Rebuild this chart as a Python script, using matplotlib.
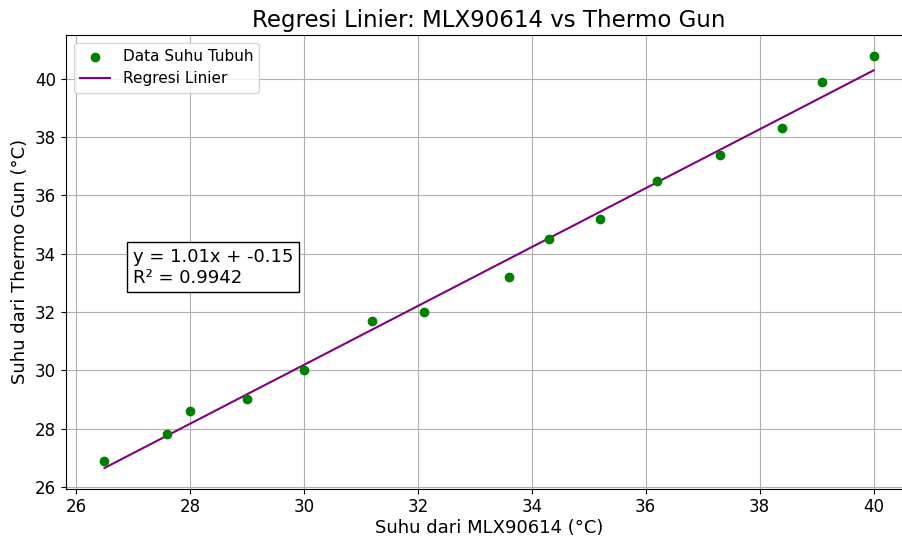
import numpy as np
import matplotlib.pyplot as plt

# Suhu pembacaan sensor vs thermo gun (°C)
suhu_mlx = [26.5, 27.6, 28.0, 29.0, 30.0, 31.2, 32.1, 33.6, 34.3, 35.2,
            36.2, 37.3, 38.4, 39.1, 40.0]
suhu_gun = [26.9, 27.8, 28.6, 29.0, 30.0, 31.7, 32.0, 33.2, 34.5, 35.2,
            36.5, 37.4, 38.3, 39.9, 40.8]

x = np.array(suhu_mlx)
y = np.array(suhu_gun)

slope, intercept = np.polyfit(x, y, 1)
y_fit = slope * x + intercept
r2 = 1 - np.sum((y - y_fit) ** 2) / np.sum((y - y.mean()) ** 2)

fig = plt.figure(figsize=(9.02, 5.39), dpi=100)
# the original screenshot is cut off on the right, so the axes run past the edge
ax = fig.add_axes([0.0732, 0.0935, 0.938, 0.8415])

ax.scatter(x, y, color="green", label="Data Suhu Tubuh", zorder=3)
ax.plot(x, y_fit, color="purple", label="Regresi Linier")

ax.text(27, 33, f"y = {slope:.2f}x + {intercept:.2f}\nR² = {r2:.4f}",
        fontsize=13, bbox=dict(facecolor="white", edgecolor="black"))

ax.set_title("Regresi Linier: MLX90614 vs Thermo Gun", fontsize=16.5)
ax.set_xlabel("Suhu dari MLX90614 (°C)", fontsize=13, labelpad=2)
ax.set_ylabel("Suhu dari Thermo Gun (°C)", fontsize=13)
ax.tick_params(labelsize=12)
ax.set_xticks(np.arange(26, 41, 2))
ax.set_yticks(np.arange(26, 41, 2))
ax.grid(True)
ax.legend(loc="upper left", fontsize=11)

plt.savefig("out.png", dpi=100)
